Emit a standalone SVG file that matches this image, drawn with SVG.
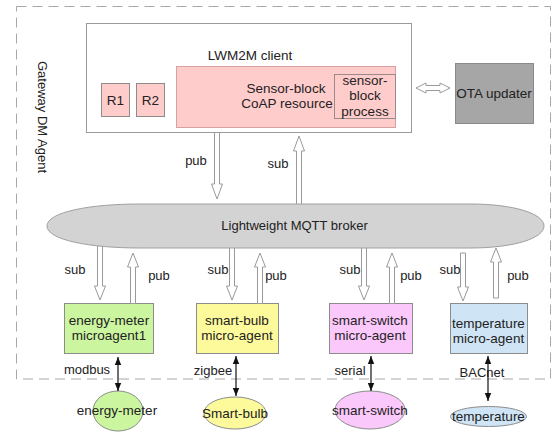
<svg xmlns="http://www.w3.org/2000/svg" width="552" height="432" viewBox="0 0 552 432">
  <defs>
    <style>
      text { font-family: "Liberation Sans", Arial, sans-serif; fill: #222; dominant-baseline: central; text-anchor: middle; }
      .lbl { font-size: 13px; }
      .nt { font-size: 13.5px; }
      .box { stroke: #8c8c8c; stroke-width: 1; }
      .hollow { fill: #fff; stroke: #9a9a9a; stroke-width: 1; }
      .link { stroke: #111; stroke-width: 1.2; fill: none; marker-start: url(#tipS); marker-end: url(#tipE); }
      .green { fill: #ccf5a0; }
      .yellow { fill: #fdfa9c; }
      .magenta { fill: #fbc8fb; }
      .blue { fill: #cfe4f5; }
      .rose { fill: #ffcccc; }
    </style>
    <marker id="tipE" viewBox="0 0 8 8" refX="8" refY="4" markerWidth="8" markerHeight="8" markerUnits="userSpaceOnUse" orient="auto">
      <path d="M0,0.8 L8,4 L0,7.2 Z" fill="#111"/>
    </marker>
    <marker id="tipS" viewBox="0 0 8 8" refX="0" refY="4" markerWidth="8" markerHeight="8" markerUnits="userSpaceOnUse" orient="auto">
      <path d="M8,0.8 L0,4 L8,7.2 Z" fill="#111"/>
    </marker>
  </defs>

  <rect width="552" height="432" fill="#fff"/>

  <!-- gateway boundary -->
  <g id="gateway">
    <rect x="16.5" y="6.5" width="534" height="372.5" fill="none" stroke="#a8a8a8" stroke-width="1" stroke-dasharray="10,6"/>
    <text class="lbl" transform="translate(42,117) rotate(90)">Gateway DM Agent</text>
  </g>

  <!-- LWM2M client -->
  <g id="lwm2m-client">
    <rect x="86.5" y="23.5" width="325" height="109" fill="#fff" stroke="#9a9a9a"/>
    <text class="nt" x="250" y="55">LWM2M client</text>
    <g id="r1">
      <rect class="box rose" x="101.5" y="83.5" width="28" height="33"/>
      <text class="nt" x="115.5" y="100">R1</text>
    </g>
    <g id="r2">
      <rect class="box rose" x="136.5" y="83.5" width="28" height="33"/>
      <text class="nt" x="150.5" y="100">R2</text>
    </g>
    <g id="sensor-block-resource">
      <rect x="176.5" y="66.5" width="219" height="61" fill="#ffcccc" stroke="#d8a0a0"/>
      <text class="nt" x="286" y="88">Sensor-block</text>
      <text class="nt" x="287" y="103">CoAP resource</text>
    </g>
    <g id="sensor-block-process">
      <rect x="334.5" y="74.5" width="61" height="44" fill="none" stroke="#9a8a8a"/>
      <text class="nt" x="365" y="80">sensor-</text>
      <text class="nt" x="365" y="95">block</text>
      <text class="nt" x="365" y="111">process</text>
    </g>
  </g>

  <!-- OTA updater -->
  <g id="ota-updater">
    <rect x="455.5" y="63.5" width="78" height="60" fill="#a6a6a6" stroke="#8a8a8a"/>
    <text class="nt" x="494" y="93">OTA updater</text>
  </g>

  <!-- micro-agents -->
  <g id="energy-meter-agent">
    <rect class="box green" x="64.5" y="303.5" width="89" height="50"/>
    <text class="nt" x="109" y="320">energy-meter</text>
    <text class="nt" x="109" y="335">microagent1</text>
  </g>
  <g id="smart-bulb-agent">
    <rect class="box yellow" x="196.5" y="303.5" width="82" height="50"/>
    <text class="nt" x="237" y="320">smart-bulb</text>
    <text class="nt" x="237" y="335">micro-agent</text>
  </g>
  <g id="smart-switch-agent">
    <rect class="box magenta" x="329.5" y="303.5" width="83" height="50"/>
    <text class="nt" x="370" y="320">smart-switch</text>
    <text class="nt" x="370" y="335">micro-agent</text>
  </g>
  <g id="temperature-agent">
    <rect class="box blue" x="450.5" y="303.5" width="77" height="50"/>
    <text class="nt" x="488.5" y="323">temperature</text>
    <text class="nt" x="488.5" y="338">micro-agent</text>
  </g>

  <!-- devices -->
  <g id="energy-meter">
    <ellipse class="box green" cx="118" cy="411" rx="25" ry="20"/>
    <text class="nt" x="117" y="410">energy-meter</text>
  </g>
  <g id="smart-bulb">
    <ellipse class="box yellow" cx="235" cy="413" rx="31" ry="16"/>
    <text class="nt" x="235" y="413">Smart-bulb</text>
  </g>
  <g id="smart-switch">
    <ellipse class="box magenta" cx="370" cy="410" rx="35" ry="19"/>
    <text class="nt" x="370" y="410">smart-switch</text>
  </g>
  <g id="temperature">
    <ellipse class="box blue" cx="488.5" cy="416.5" rx="38" ry="10"/>
    <text class="nt" x="488.5" y="416">temperature</text>
  </g>

  <!-- connectors -->
  <g id="connectors">
    <!-- client <-> broker -->
    <path class="hollow" d="M214.5,132.5 V184 H211.5 L217,199 L222.5,184 H219.5 V132.5 Z"/>
    <path class="hollow" d="M296.5,212 V151 H293.5 L299,136 L304.5,151 H301.5 V212 Z"/>
    <text class="lbl" x="196" y="160">pub</text>
    <text class="lbl" x="278" y="163">sub</text>

    <!-- client <-> OTA -->
    <path class="hollow" d="M416,88 L426,83 V85.5 H440 V83 L450,88 L440,93 V90.5 H426 V93 Z"/>

    <!-- broker <-> agents -->
    <path class="hollow" d="M97.5,238 V286 H94.5 L100,300 L105.5,286 H102.5 V238 Z"/>
    <path class="hollow" d="M130.5,303.5 V267 H127.5 L133,253 L138.5,267 H135.5 V303.5 Z"/>
    <path class="hollow" d="M229.5,240 V286 H226.5 L232,300 L237.5,286 H234.5 V240 Z"/>
    <path class="hollow" d="M257.5,303.5 V267 H254.5 L260,253 L265.5,267 H262.5 V303.5 Z"/>
    <path class="hollow" d="M361.5,240 V286 H358.5 L364,300 L369.5,286 H366.5 V240 Z"/>
    <path class="hollow" d="M389.5,303.5 V267 H386.5 L392,253 L397.5,267 H394.5 V303.5 Z"/>
    <path class="hollow" d="M460.5,253 V287 H457.5 L463,301 L468.5,287 H465.5 V253 Z"/>
    <path class="hollow" d="M493.5,298 V262 H490.5 L496,248 L501.5,262 H498.5 V298 Z"/>
    <text class="lbl" x="75" y="269">sub</text>
    <text class="lbl" x="159" y="275">pub</text>
    <text class="lbl" x="218" y="269">sub</text>
    <text class="lbl" x="276" y="275">pub</text>
    <text class="lbl" x="350" y="269">sub</text>
    <text class="lbl" x="411" y="275">pub</text>
    <text class="lbl" x="450" y="269">sub</text>
    <text class="lbl" x="518" y="275">pub</text>

    <!-- agents <-> devices -->
    <text class="lbl" x="87" y="369">modbus</text>
    <text class="lbl" x="213" y="370">zigbee</text>
    <text class="lbl" x="350" y="370">serial</text>
    <text class="lbl" x="482" y="372">BACnet</text>
    <line class="link" x1="118" y1="357" x2="118" y2="391"/>
    <line class="link" x1="236" y1="356" x2="236" y2="396"/>
    <line class="link" x1="371" y1="356" x2="371" y2="391"/>
    <line class="link" x1="488" y1="356" x2="488" y2="401"/>
  </g>

  <!-- MQTT broker -->
  <g id="mqtt-broker">
    <path d="M47,226 C47,212 90,204 140,204 L470,204 C515,204 544,214 544,226 C544,238 515,248 470,248 L140,248 C90,248 47,240 47,226 Z" fill="#d3d3d3" stroke="#a0a0a0"/>
    <text class="nt" x="294.5" y="225" style="font-size:13px">Lightweight MQTT broker</text>
  </g>
</svg>
